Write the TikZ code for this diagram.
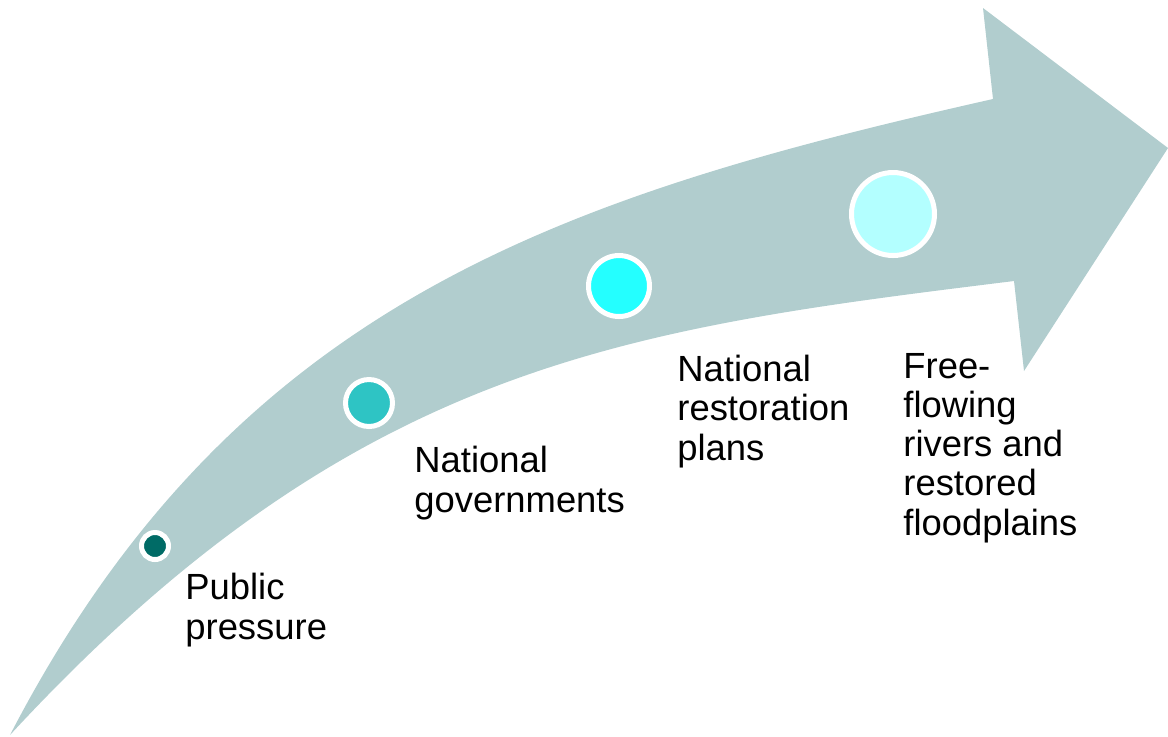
\documentclass[tikz,border=0pt]{standalone}
\usepackage{fontspec}
\setmainfont{Liberation Sans}
\usepackage{tikz}

\definecolor{arrowgrey}{HTML}{B1CDCE}
\definecolor{dotone}{HTML}{006B66}
\definecolor{dottwo}{HTML}{2EC4C4}
\definecolor{dotthree}{HTML}{24FFFF}
\definecolor{dotfour}{HTML}{B3FFFF}

\tikzset{
  stage/.style={circle, draw=white, line width=2.5pt, inner sep=0pt},
  stagetext/.style={align=left, inner sep=0pt, anchor=base west, font=\fontsize{18.2}{19.6}\selectfont}
}

\begin{document}
\begin{tikzpicture}[x=0.5pt, y=-0.5pt]
\useasboundingbox (0,0) rectangle (1168,736);
% the curved arrow
\fill[arrowgrey] (10,735) .. controls (234,303) and (560.5,196.5) .. (993,99) -- (983,8) -- (1168,148) -- (1024,371) -- (1014,281) .. controls (626,329) and (354.4,362.6) .. (10,735) -- cycle;
% stages
\node[stage, fill=dotone, minimum size=13.5pt] (pub) at (155,546) {};
\node[stage, fill=dottwo, minimum size=23.5pt] (gov) at (369,403) {};
\node[stage, fill=dotthree, minimum size=30.5pt] (plan) at (619,286) {};
\node[stage, fill=dotfour, minimum size=41.5pt] (river) at (893,214) {};
% labels (base = last line)
\node[stagetext] (pub text) at (185,639) {Public\\pressure};
\node[stagetext] (gov text) at (414,512) {National\\governments};
\node[stagetext] (plan text) at (677,460) {National\\restoration\\plans};
\node[stagetext] (river text) at (903,535) {Free-\\flowing\\rivers and\\restored\\floodplains};
\end{tikzpicture}
\end{document}
